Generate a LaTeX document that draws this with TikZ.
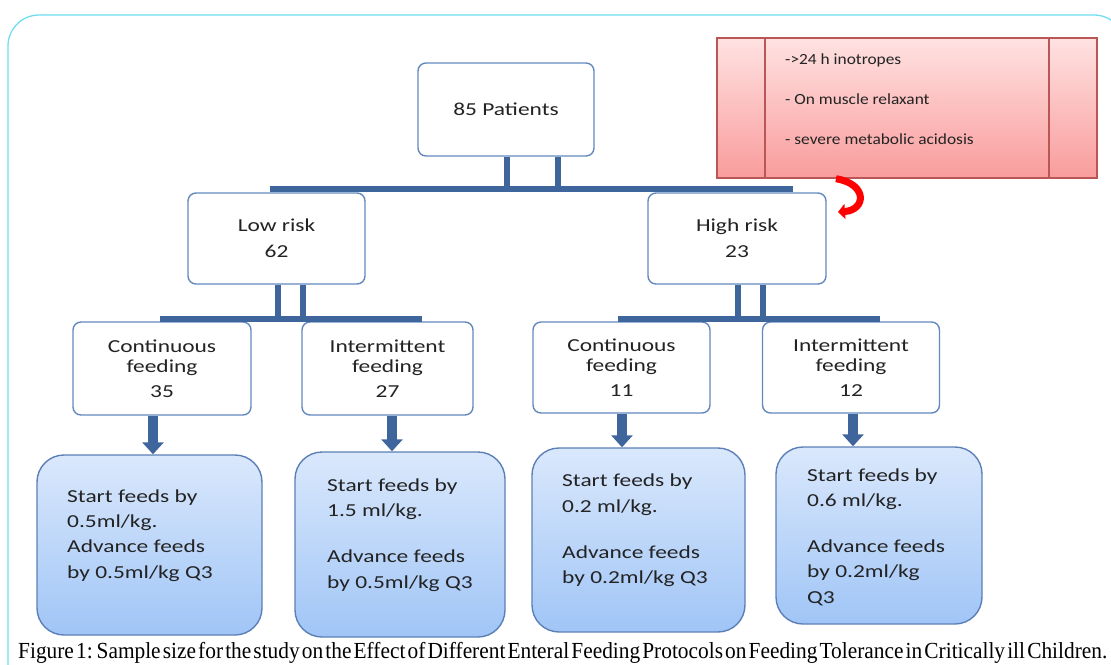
\documentclass[tikz,border=0pt]{standalone}
\usepackage{fontspec}
\usepackage{graphicx}
\usetikzlibrary{arrows.meta}
\newfontfamily\diag[FakeStretch=1.28]{Carlito}
\newfontfamily\redfont[FakeStretch=1.12]{Carlito}
\newfontfamily\capfont{Liberation Serif}
\definecolor{bord}{RGB}{98,136,190}
\definecolor{barc}{RGB}{63,102,156}
\definecolor{framec}{RGB}{110,222,240}
\definecolor{bluetop}{RGB}{218,232,252}
\definecolor{bluebot}{RGB}{160,197,246}
\definecolor{blueb}{RGB}{92,128,182}
\definecolor{redtop}{RGB}{255,226,226}
\definecolor{redbot}{RGB}{249,156,156}
\definecolor{redb}{RGB}{186,86,86}
\definecolor{txt}{RGB}{35,35,35}
\tikzset{
  wbox/.style={draw=bord, line width=1.4pt, fill=white, rounded corners=8pt,
    align=center, text=txt, inner sep=0pt},
  bluebox/.style={draw=blueb, line width=1.4pt, top color=bluetop, bottom color=bluebot,
    rounded corners=27pt, inner sep=0pt},
  bluetext/.style={anchor=west, align=left, inner sep=0pt, text=txt,
    font=\diag\fontsize{18.3}{25.4}\selectfont},
  bar/.style={draw=barc, line width=6pt},
  arr/.style={draw=barc, line width=10pt, -{Triangle[width=21pt,length=12pt]}},
  redarr/.style={draw=red, line width=7pt, -{Triangle[width=15pt,length=7pt]}},
}
\begin{document}
\begin{tikzpicture}[x=1pt,y=-1pt]
\useasboundingbox (0,0) rectangle (1111,664);
\begin{scope}
\clip (0,0) rectangle (1111,664);
\draw[framec, line width=1.3pt, rounded corners=31pt] (8,15) rectangle (1125,730);
\end{scope}

% red box
\node[draw=redb, line width=1.4pt, top color=redtop, bottom color=redbot,
  minimum width=380pt, minimum height=140pt, inner sep=0pt] (red) at (907,108) {};
\draw[redb, line width=1.4pt] ([xshift=-142pt]red.north) -- ([xshift=-142pt]red.south);
\draw[redb, line width=1.4pt] ([xshift=142pt]red.north) -- ([xshift=142pt]red.south);
\node[anchor=west, align=left, inner sep=0pt, text=txt,
  font=\redfont\fontsize{15.5}{40}\selectfont] (redtxt) at (785,99)
  {->24 h inotropes\\- On muscle relaxant\\- severe metabolic acidosis};
\coordinate (rend) at (838,212);
\draw[redarr] ([xshift=-71pt]red.south) .. controls (868,184) and (866,210) .. (rend);

% tree boxes
\node[wbox, minimum width=176pt, minimum height=93pt, font=\diag\fontsize{18.3}{22}\selectfont]
  (p) at (506,109.5) {85 Patients};
\node[wbox, minimum width=177pt, minimum height=91pt, font=\diag\fontsize{18.3}{26}\selectfont]
  (lr) at (276.5,238.5) {Low risk\\62};
\node[wbox, minimum width=178pt, minimum height=91pt, font=\diag\fontsize{18.3}{26}\selectfont]
  (hr) at (737,238.5) {High risk\\23};
\node[wbox, minimum width=178pt, minimum height=93pt, font=\diag\fontsize{18.3}{20}\selectfont]
  (c1) at (162,368.5) {Continuous\\feeding\\[5pt]35};
\node[wbox, minimum width=171pt, minimum height=93pt, font=\diag\fontsize{18.3}{20}\selectfont]
  (i1) at (387.5,368.5) {Intermittent\\feeding\\[5pt]27};
\node[wbox, minimum width=177pt, minimum height=91pt, font=\diag\fontsize{18.3}{20}\selectfont]
  (c2) at (621.5,367.5) {Continuous\\feeding\\[5pt]11};
\node[wbox, minimum width=177pt, minimum height=91pt, font=\diag\fontsize{18.3}{20}\selectfont]
  (i2) at (851,367.5) {Intermittent\\feeding\\[5pt]12};

% connector bars
\coordinate (h1a) at (270,189);
\coordinate (h1b) at (793,189);
\draw[bar] (h1a) -- (h1b);
\draw[bar] ([xshift=1pt]p.south) -- ([xshift=1pt]p.south |- h1a);
\draw[bar] ([xshift=52pt]p.south) -- ([xshift=52pt]p.south |- h1a);

\coordinate (h2a) at (160,319);
\coordinate (h2b) at (422,319);
\draw[bar] (h2a) -- (h2b);
\draw[bar] ([xshift=1.5pt]lr.south) -- ([xshift=1.5pt]lr.south |- h2a);
\draw[bar] ([xshift=26.5pt]lr.south) -- ([xshift=26.5pt]lr.south |- h2a);

\coordinate (h3a) at (618,319);
\coordinate (h3b) at (880,319);
\draw[bar] (h3a) -- (h3b);
\draw[bar] ([xshift=1pt]hr.south) -- ([xshift=1pt]hr.south |- h3a);
\draw[bar] ([xshift=26pt]hr.south) -- ([xshift=26pt]hr.south |- h3a);

% blue boxes
\node[bluebox, minimum width=225pt, minimum height=180pt] (b1) at (149.5,545) {};
\node[bluebox, minimum width=210pt, minimum height=185pt] (b2) at (400,544.5) {};
\node[bluebox, minimum width=213pt, minimum height=184pt] (b3) at (638.5,540) {};
\node[bluebox, minimum width=206pt, minimum height=177pt] (b4) at (879,535.5) {};

\node[bluetext] (t1) at (67,535.5) {Start feeds by\\0.5ml/kg.\\Advance feeds\\by 0.5ml/kg Q3};
\node[bluetext] (t2) at (327,535) {Start feeds by\\1.5 ml/kg.\\[20.5pt]Advance feeds\\by 0.5ml/kg Q3};
\node[bluetext] (t3) at (562,530.5) {Start feeds by\\0.2 ml/kg.\\[20.5pt]Advance feeds\\by 0.2ml/kg Q3};
\node[bluetext] (t4) at (807,537) {Start feeds by\\0.6 ml/kg.\\[20.5pt]Advance feeds\\by 0.2ml/kg\\Q3};

% arrows
\draw[arr] ([xshift=-9pt]c1.south) -- ([xshift=-9pt]c1.south |- b1.north);
\draw[arr] ([xshift=4.5pt]i1.south) -- ([xshift=4.5pt]i1.south |- b2.north);
\draw[arr] ([xshift=0.5pt]c2.south) -- ([xshift=0.5pt]c2.south |- b3.north);
\draw[arr] ([xshift=2pt]i2.south) -- ([xshift=2pt]i2.south |- b4.north);

% caption
\node[anchor=base west, inner sep=0pt, text=black] (cap) at (18,658)
  {\resizebox{1089pt}{\height}{\capfont\fontsize{23}{26}\selectfont\spaceskip=0.1em plus 0.02em\relax Figure 1: Sample size for the study on the Effect of Different Enteral Feeding Protocols on Feeding Tolerance in Critically ill Children.}};
\end{tikzpicture}
\end{document}
